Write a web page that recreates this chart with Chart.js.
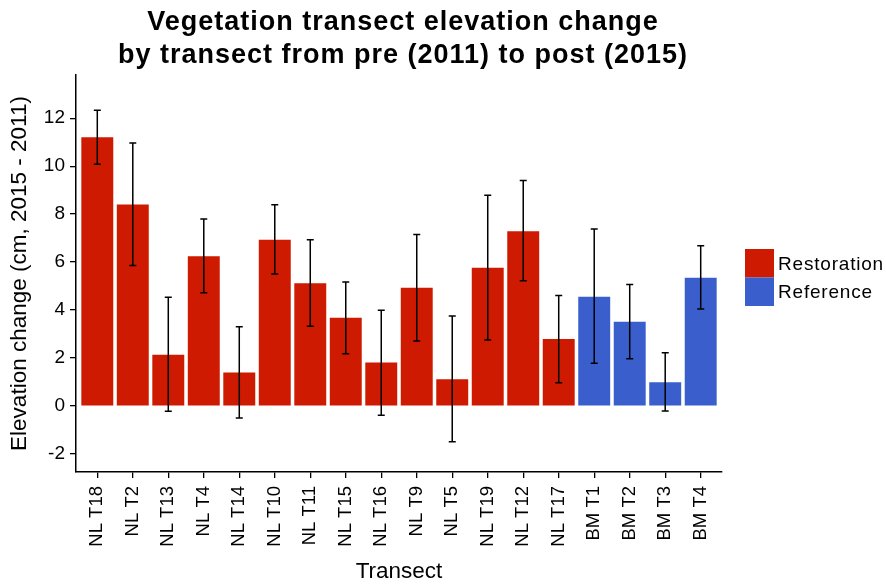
<!DOCTYPE html>
<html>
<head>
<meta charset="utf-8">
<script src="https://cdn.jsdelivr.net/npm/chart.js@4.4.1/dist/chart.umd.min.js"></script>
<style>
  html, body { margin: 0; padding: 0; background: #fff; }
  #wrap { width: 886px; height: 587px; }
</style>
</head>
<body>
<div id="wrap"><canvas id="wykres"></canvas></div>
<script>
// transects in plotted order
var transects = ['NL T18', 'NL T2', 'NL T13', 'NL T4', 'NL T14', 'NL T10', 'NL T11', 'NL T15',
  'NL T16', 'NL T9', 'NL T5', 'NL T19', 'NL T12', 'NL T17', 'BM T1', 'BM T2', 'BM T3', 'BM T4'];
var site = ['Restoration', 'Restoration', 'Restoration', 'Restoration', 'Restoration', 'Restoration',
  'Restoration', 'Restoration', 'Restoration', 'Restoration', 'Restoration', 'Restoration',
  'Restoration', 'Restoration', 'Reference', 'Reference', 'Reference', 'Reference'];
// mean elevation change (cm)
var meanChange = [11.2, 8.4, 2.14, 6.24, 1.4, 6.93, 5.12, 3.68, 1.81, 4.93, 1.12, 5.76, 7.29, 2.79,
  4.56, 3.51, 0.99, 5.35];
// error bar ends
var errLow = [10.08, 5.86, -0.22, 4.72, -0.5, 5.5, 3.33, 2.18, -0.38, 2.71, -1.49, 2.75, 5.22, 0.97,
  1.78, 1.97, -0.21, 4.04];
var errHigh = [12.33, 10.97, 4.53, 7.8, 3.31, 8.39, 6.93, 5.17, 3.99, 7.15, 3.75, 8.79, 9.4, 4.61,
  7.38, 5.07, 2.22, 6.68];
var yTicks = [-2, 0, 2, 4, 6, 8, 10, 12];

var siteNames = ['Restoration', 'Reference'];
var siteColors = { 'Restoration': '#cd1a00', 'Reference': '#3a5fcd' };

var FONT = '"Liberation Sans", Arial, Helvetica, sans-serif';

var errorBars = {
  id: 'errorBars',
  afterDatasetsDraw: function (chart) {
    var ctx = chart.ctx;
    var x = chart.scales.x, y = chart.scales.y;
    ctx.save();
    ctx.strokeStyle = '#000';
    ctx.lineWidth = 1.5;
    for (var i = 0; i < transects.length; i++) {
      var px = x.getPixelForValue(i);
      var top = y.getPixelForValue(errHigh[i]);
      var bot = y.getPixelForValue(errLow[i]);
      ctx.beginPath();
      ctx.moveTo(px, top); ctx.lineTo(px, bot);
      ctx.moveTo(px - 3.5, top); ctx.lineTo(px + 3.5, top);
      ctx.moveTo(px - 3.5, bot); ctx.lineTo(px + 3.5, bot);
      ctx.stroke();
    }
    ctx.restore();
  }
};

// title + legend drawn by hand so they sit where ggplot put them
var decor = {
  id: 'decor',
  afterDraw: function (chart) {
    var ctx = chart.ctx;
    ctx.save();
    ctx.fillStyle = '#000';
    ctx.textAlign = 'center';
    ctx.textBaseline = 'alphabetic';
    ctx.font = 'bold 27px ' + FONT;
    ctx.letterSpacing = '1px';
    ctx.fillText('Vegetation transect elevation change', 403, 30);
    ctx.fillText('by transect from pre (2011) to post (2015)', 403, 63);

    ctx.textAlign = 'left';
    ctx.font = '19px ' + FONT;
    ctx.letterSpacing = '0.8px';
    for (var k = 0; k < siteNames.length; k++) {
      var y0 = 249 + k * 28.5;
      ctx.fillStyle = siteColors[siteNames[k]];
      ctx.fillRect(745, y0, 29, 28.5);
      ctx.fillStyle = '#000';
      ctx.fillText(siteNames[k], 778, y0 + 20.5);
    }
    ctx.restore();
  }
};

var ctx = document.getElementById('wykres');
new Chart(ctx, {
  type: 'bar',
  data: {
    datasets: [{
      label: 'Elevation change',
      data: meanChange.map(function (v, i) { return { x: i, y: v }; }),
      backgroundColor: site.map(function (s) { return siteColors[s]; }),
      borderWidth: 0,
      categoryPercentage: 1,
      barPercentage: 0.9
    }]
  },
  options: {
    responsive: true,
    maintainAspectRatio: false,
    animation: false,
    layout: { padding: { top: 75, right: 164, left: 0, bottom: 0 } },
    plugins: {
      legend: { display: false },
      title: { display: false },
      tooltip: { enabled: false }
    },
    scales: {
      x: {
        type: 'linear',
        offset: false,
        min: -0.6,
        max: transects.length - 0.4,
        afterFit: function (s) { s.height = 115; },
        afterBuildTicks: function (s) {
          s.ticks = transects.map(function (t, i) { return { value: i }; });
        },
        ticks: {
          autoSkip: false,
          maxRotation: 90,
          minRotation: 90,
          padding: 8,
          color: '#000',
          font: { family: FONT, size: 18.5 },
          callback: function (v) { return transects[v]; }
        },
        grid: { offset: false, drawOnChartArea: false, drawTicks: true, tickLength: 6, color: '#000', lineWidth: 1.3 },
        border: { display: true, color: '#000', width: 1.5 },
        title: {
          display: true,
          text: 'Transect',
          color: '#000',
          font: { family: FONT, size: 22.5 },
          padding: { top: 0, bottom: 2 }
        }
      },
      y: {
        min: -2.75,
        max: 13.8,
        afterFit: function (s) { s.width = 76; },
        afterBuildTicks: function (s) {
          s.ticks = yTicks.map(function (v) { return { value: v }; });
        },
        ticks: {
          padding: 5,
          color: '#000',
          font: { family: FONT, size: 19 }
        },
        grid: { drawOnChartArea: false, drawTicks: true, tickLength: 6, color: '#000', lineWidth: 1.3 },
        border: { display: true, color: '#000', width: 1.5 },
        title: {
          display: true,
          text: 'Elevation change (cm, 2015 - 2011)',
          color: '#000',
          font: { family: FONT, size: 22.5 },
          padding: { top: 6, bottom: 0 }
        }
      }
    }
  },
  plugins: [errorBars, decor]
});
</script>
</body>
</html>
